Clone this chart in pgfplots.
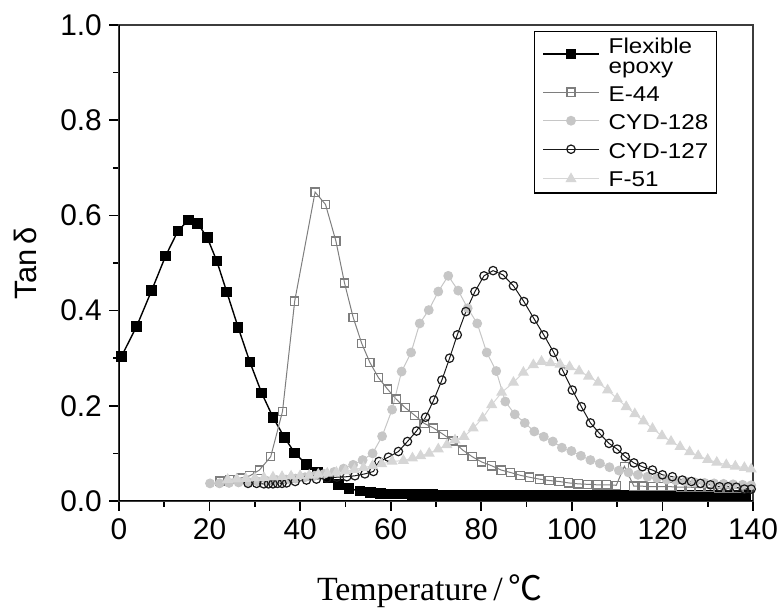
\documentclass[border=0pt]{standalone}
\usepackage{pgfplots}
\usepackage{pgfplotstable}
\pgfplotsset{compat=1.18}
\usepackage{fontspec}
\setmainfont{Liberation Sans}
\newfontfamily\serifx{Liberation Serif}
\newfontfamily\legfont[FakeStretch=1.13]{Liberation Sans}
\newfontfamily\cjk{Noto Sans CJK SC}

\definecolor{eGray}{HTML}{7E7E7E}
\definecolor{cGray}{HTML}{C6C6C6}
\definecolor{fGray}{HTML}{D6D6D6}
\definecolor{frameGray}{HTML}{3C3C3C}

% fixed height and depth for the legend rows
\newcommand\rowstrut{\rule[-4bp]{0pt}{24bp}}

% Tan delta versus temperature for five epoxy resins
\pgfplotstableread{
x y
0.5 0.303
3.9 0.367
7.2 0.442
10.3 0.515
13.0 0.567
15.3 0.590
17.4 0.583
19.5 0.553
21.6 0.504
23.8 0.439
26.3 0.365
28.9 0.292
31.5 0.227
34.0 0.176
36.5 0.134
38.8 0.101
41.4 0.077
43.8 0.060
46.2 0.048
48.5 0.035
50.8 0.026
53.2 0.021
55.5 0.018
57.8 0.016
60.1 0.015
62.4 0.015
64.7 0.014
67.0 0.014
69.3 0.014
71.6 0.013
73.9 0.013
76.2 0.013
78.5 0.013
80.8 0.013
83.1 0.013
85.4 0.012
87.7 0.012
90.0 0.012
92.3 0.012
94.6 0.012
96.9 0.012
99.2 0.012
101.5 0.012
103.8 0.012
106.1 0.012
108.4 0.012
110.7 0.012
113.0 0.012
115.3 0.012
117.6 0.012
119.9 0.012
122.2 0.012
124.5 0.012
126.8 0.011
129.1 0.011
131.4 0.011
133.7 0.011
136.0 0.011
138.3 0.011
}\flexible

\pgfplotstableread{
x y
22.3 0.042
24.5 0.045
26.8 0.048
28.9 0.053
31.0 0.065
33.5 0.093
36.1 0.188
38.8 0.420
43.3 0.649
45.6 0.623
47.9 0.546
49.8 0.458
51.7 0.386
53.6 0.331
55.4 0.291
57.3 0.259
59.3 0.235
61.2 0.214
63.2 0.196
65.3 0.180
67.4 0.163
69.5 0.153
71.6 0.140
73.7 0.126
75.9 0.107
78.0 0.093
80.1 0.082
82.3 0.074
84.4 0.065
86.4 0.060
88.6 0.054
90.6 0.050
92.8 0.046
95.0 0.043
97.2 0.041
99.3 0.038
101.4 0.036
103.5 0.035
105.6 0.034
107.7 0.034
109.8 0.033
111.6 0.073
113.7 0.031
115.7 0.031
117.8 0.030
119.8 0.030
121.9 0.030
124.0 0.029
126.1 0.029
128.2 0.028
130.3 0.028
132.4 0.027
134.5 0.027
136.6 0.027
138.7 0.026
}\eff

\pgfplotstableread{
x y
20.1 0.037
22.2 0.037
24.3 0.038
26.4 0.039
28.5 0.040
30.6 0.041
32.7 0.042
34.8 0.044
36.9 0.045
39.0 0.047
41.1 0.050
43.2 0.053
45.3 0.057
47.5 0.061
49.6 0.068
51.7 0.076
53.8 0.086
56.0 0.100
58.1 0.136
60.3 0.192
62.4 0.272
64.5 0.312
66.4 0.373
68.4 0.401
70.5 0.440
72.7 0.473
74.9 0.442
77.0 0.405
79.1 0.373
81.2 0.312
83.3 0.273
85.3 0.209
87.4 0.182
89.6 0.164
91.7 0.146
93.8 0.135
95.8 0.125
97.8 0.112
99.9 0.105
102.0 0.095
104.1 0.086
106.2 0.079
108.3 0.071
110.4 0.064
112.5 0.060
114.6 0.055
116.7 0.051
118.8 0.048
120.9 0.045
123.0 0.043
125.1 0.041
127.2 0.039
129.3 0.038
131.4 0.037
133.5 0.036
135.6 0.035
137.7 0.034
139.6 0.033
}\cydA

\pgfplotstableread{
x y
28.5 0.037
30.4 0.037
32.0 0.036
33.0 0.036
34.0 0.036
35.0 0.037
36.0 0.037
37.0 0.038
38.9 0.041
41.4 0.044
43.6 0.046
45.9 0.048
48.1 0.050
50.3 0.051
52.1 0.053
54.3 0.057
56.2 0.062
57.4 0.083
59.5 0.092
61.7 0.104
63.7 0.125
65.7 0.147
67.7 0.176
69.5 0.212
71.3 0.254
73.0 0.300
74.7 0.349
76.6 0.398
78.6 0.440
80.6 0.473
82.6 0.484
84.8 0.475
87.1 0.452
89.4 0.419
91.7 0.382
93.8 0.349
96.0 0.312
98.1 0.272
100.1 0.233
102.1 0.198
104.1 0.164
106.1 0.142
108.2 0.121
110.0 0.109
111.8 0.093
113.7 0.080
115.6 0.072
117.8 0.065
120.0 0.055
122.2 0.051
124.4 0.044
126.4 0.041
128.4 0.037
130.6 0.034
132.6 0.030
134.5 0.030
136.3 0.029
138.1 0.025
139.6 0.025
}\cydB

\pgfplotstableread{
x y
24.0 0.045
26.0 0.046
28.0 0.047
30.0 0.048
32.0 0.049
34.0 0.050
36.0 0.051
38.0 0.052
40.0 0.053
42.0 0.054
44.0 0.056
46.0 0.058
48.0 0.060
50.0 0.063
52.0 0.066
54.0 0.070
56.0 0.074
58.0 0.078
60.3 0.083
62.8 0.085
64.8 0.090
66.6 0.095
68.5 0.100
70.5 0.109
72.4 0.118
74.2 0.128
76.2 0.135
78.2 0.153
80.3 0.174
82.3 0.202
84.5 0.228
87.1 0.249
89.3 0.270
91.5 0.286
93.3 0.293
95.3 0.290
97.4 0.287
99.5 0.282
101.6 0.273
103.7 0.262
105.8 0.249
107.9 0.233
110.0 0.215
112.0 0.198
113.9 0.183
115.8 0.168
117.8 0.152
119.9 0.137
121.9 0.125
123.9 0.114
126.0 0.103
127.9 0.095
130.0 0.087
132.0 0.081
134.1 0.076
136.1 0.073
138.1 0.070
139.6 0.067
}\fff

\begin{document}
\begin{tikzpicture}
\useasboundingbox (0,0) rectangle (783bp,609bp);
\begin{axis}[
  at={(119bp,108bp)}, anchor=south west,
  scale only axis, width=634bp, height=476bp,
  xmin=0, xmax=140, ymin=0, ymax=1.0,
  xtick distance=20, ytick distance=0.2,
  minor x tick num=1, minor y tick num=1,
  xtick pos=bottom, ytick pos=left,
  tick align=outside,
  major tick length=10bp, minor tick length=6bp,
  every tick/.style={line width=1.6bp, black},
  axis line style={line width=1.2bp, frameGray},
  /pgf/number format/assume math mode=true,
  yticklabel style={/pgf/number format/.cd, fixed, fixed zerofill, precision=1},
  ticklabel style={font=\fontsize{30}{34}\selectfont, inner sep=7bp},
  xlabel={{\serifx Temperature\,/\,}{\cjk ℃}},
  ylabel={Tan\,δ},
  every axis x label/.style={at={(axis description cs:0.49,-0.208)}, anchor=base,
    font=\fontsize{34}{38}\selectfont},
  every axis y label/.style={at={(axis description cs:-0.148,0.5)}, rotate=90, anchor=center,
    font=\fontsize{31}{35}\selectfont},
  legend cell align=left,
  legend style={at={(axis description cs:0.943,0.987)}, anchor=north east,
    draw=black, line width=1.2bp, fill=white,
    font=\legfont\fontsize{21.5}{19.5}\selectfont,
    inner xsep=8bp, inner ysep=2bp, row sep=7bp, column sep=9bp},
  legend image code/.code={
    \draw[mark repeat=2, mark phase=2, #1]
      plot coordinates {(0bp,0bp) (28bp,0bp) (56bp,0bp)};},
]
\addplot[black, line width=1.4bp, mark=square*, mark size=4.6bp,
  mark options={solid, fill=black}] table {\flexible};
\addlegendentry[inner sep=0bp, text depth=20.7bp]{\begin{tabular}[t]{@{}l@{}}Flexible\rowstrut\\epoxy\end{tabular}}

\addplot[eGray, line width=1bp, mark=square, mark size=4.1bp,
  mark options={solid, fill=white, line width=1.3bp}] table {\eff};
\addlegendentry[inner sep=0bp]{\rowstrut E-44}

\addplot[cGray, line width=1bp, mark=*, mark size=4.4bp,
  mark options={solid, fill=cGray}] table {\cydA};
\addlegendentry[inner sep=0bp]{\rowstrut CYD-128}

\addplot[black!90, line width=1bp, mark=o, mark size=4.2bp,
  mark options={solid, fill=white, line width=1.2bp}] table {\cydB};
\addlegendentry[inner sep=0bp]{\rowstrut CYD-127}

\addplot[fGray, line width=1bp, mark=triangle*, mark size=5.5bp,
  mark options={solid, fill=fGray}] table {\fff};
\addlegendentry[inner sep=0bp, text depth=4bp]{\rowstrut F-51}

% heavier left and bottom axis lines
\draw[line width=2bp, black] (rel axis cs:0,1) -- (rel axis cs:0,0) -- (rel axis cs:1,0);
\end{axis}
\end{tikzpicture}
\end{document}
